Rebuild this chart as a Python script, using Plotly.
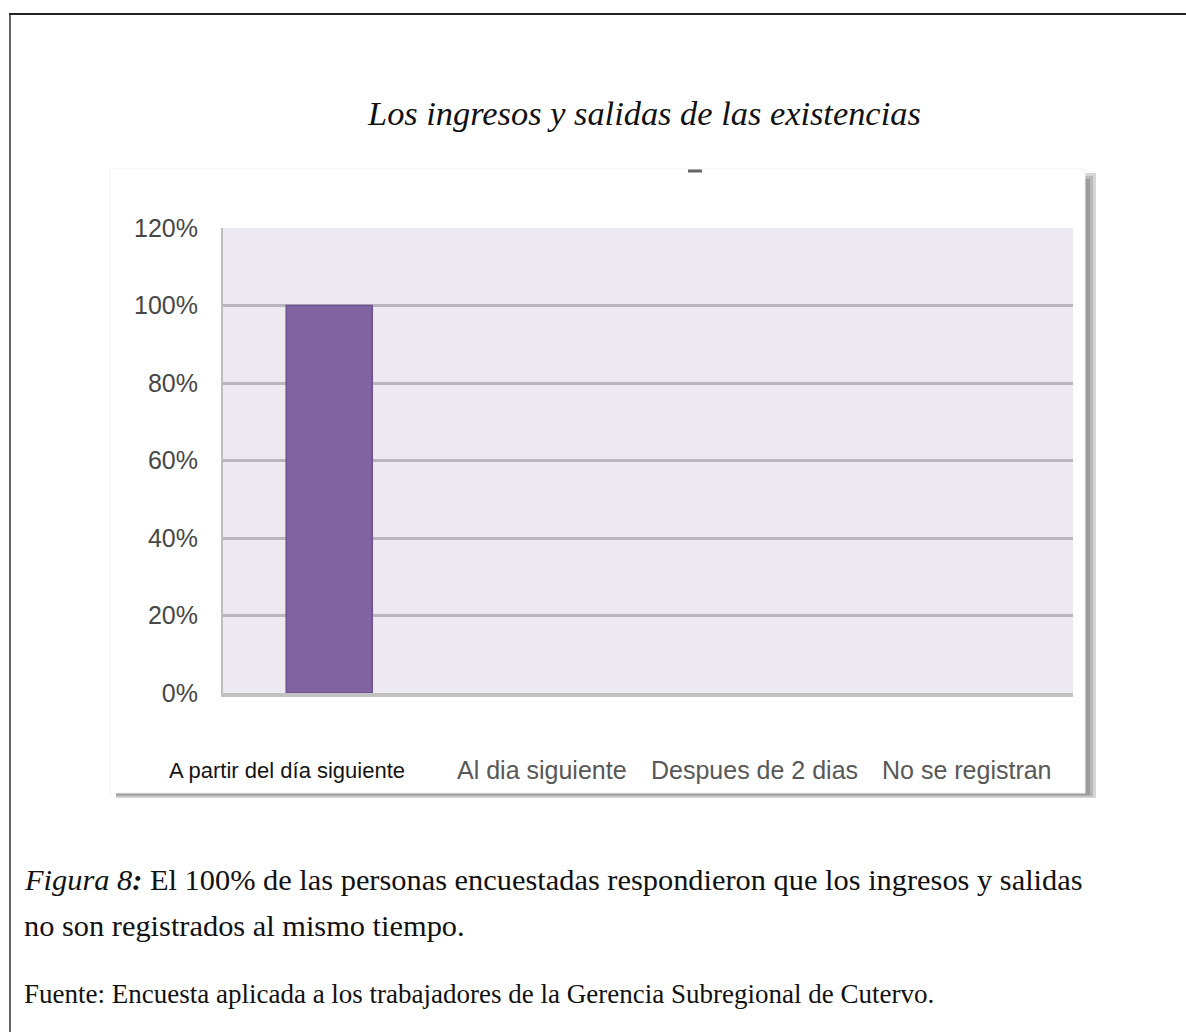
import plotly.graph_objects as go

categories = ["A partir del día siguiente", "Al dia siguiente", "Despues de 2 dias", "No se registran"]
values = [1.00, 0.0, 0.0, 0.0]
y_tickvals = [0, 0.2, 0.4, 0.6, 0.8, 1.0, 1.2]
y_ticktext = ["0%", "20%", "40%", "60%", "80%", "100%", "120%"]

title_text = "Los ingresos y salidas de las existencias"
caption_line1 = "<i>Figura 8</i><b><i>:</i></b> El 100% de las personas encuestadas respondieron que los ingresos y salidas"
caption_line2 = "no son registrados al mismo tiempo."
source_text = "Fuente: Encuesta aplicada a los trabajadores de la Gerencia Subregional de Cutervo."

W, H = 1186, 1032
def px(x):
    return x / W
def py(y):
    return 1 - y / H

label_xshift = [-42, 0, 0, 0]
label_colors = ["#141414", "#585858", "#585858", "#585858"]
label_sizes = [22, 25, 25, 25]

sans = "Liberation Sans, Arial, sans-serif"
serif = "Liberation Serif, Times New Roman, serif"

fig = go.Figure()
fig.add_trace(go.Bar(
    x=list(range(len(categories))), y=values, width=0.405,
    marker=dict(color="#8064A2",
                line=dict(color="#6C5290", width=[1.5 if v > 0 else 0 for v in values])),
    hoverinfo="skip",
))

shapes = []
# outer document frame (top and left)
shapes.append(dict(type="line", xref="paper", yref="paper", x0=px(9), x1=px(1186), y0=py(14), y1=py(14),
                   line=dict(color="#222222", width=2)))
shapes.append(dict(type="line", xref="paper", yref="paper", x0=px(10), x1=px(10), y0=py(14), y1=py(1032),
                   line=dict(color="#333333", width=1.5)))
# chart box shadow
for c, o in [("#d6d6d6", 11), ("#b8b8b8", 8), ("#9c9c9c", 5)]:
    shapes.append(dict(type="rect", xref="paper", yref="paper", layer="below",
                       x0=px(116), x1=px(1085 + o), y0=py(793 + o * 0.45), y1=py(173 + (11 - o)),
                       fillcolor=c, line=dict(width=0)))
# chart box
shapes.append(dict(type="rect", xref="paper", yref="paper", layer="below",
                   x0=px(110), x1=px(1085), y0=py(793), y1=py(169),
                   fillcolor="white", line=dict(color="#f2f2f2", width=1)))
# plot area background
shapes.append(dict(type="rect", xref="x domain", yref="y domain", layer="below",
                   x0=0, x1=1, y0=0, y1=1, fillcolor="#ECEAF0", line=dict(width=0)))
# stray mark above plot
shapes.append(dict(type="line", xref="paper", yref="paper", x0=px(688), x1=px(702), y0=py(171), y1=py(171),
                   line=dict(color="#666666", width=3)))

annotations = [
    dict(text="<i>" + title_text + "</i>", xref="paper", yref="paper", x=px(644), y=py(113),
         xanchor="center", yanchor="middle", showarrow=False,
         font=dict(family=serif, size=34.4, color="#111111")),
    dict(text=caption_line1, xref="paper", yref="paper", x=px(22), y=py(880), xanchor="left", yanchor="middle",
         showarrow=False, font=dict(family=serif, size=30.4, color="#111111")),
    dict(text=caption_line2, xref="paper", yref="paper", x=px(22), y=py(926), xanchor="left", yanchor="middle",
         showarrow=False, font=dict(family=serif, size=30.4, color="#111111")),
    dict(text=source_text, xref="paper", yref="paper", x=px(22), y=py(994), xanchor="left", yanchor="middle",
         showarrow=False, font=dict(family=serif, size=27, color="#111111")),
]
for i, cat in enumerate(categories):
    annotations.append(dict(text=cat, xref="x", yref="paper", x=i, y=py(770), xanchor="center",
                            yanchor="middle", xshift=label_xshift[i], showarrow=False,
                            font=dict(family=sans, size=label_sizes[i], color=label_colors[i])))

fig.update_layout(
    width=W, height=H,
    margin=dict(l=0, r=0, t=0, b=0, pad=0, autoexpand=False),
    paper_bgcolor="white",
    plot_bgcolor="#ECEAF0",
    showlegend=False,
    shapes=shapes,
    annotations=annotations,
    xaxis=dict(domain=[px(223), px(1073)], range=[-0.5, len(categories) - 0.5], autorange=False,
               showticklabels=False, showgrid=False, zeroline=False,
               showline=True, linecolor="#C2C2C2", linewidth=4, ticks="", fixedrange=True),
    yaxis=dict(domain=[py(693), py(228)], range=[0, 1.2], autorange=False,
               tickvals=y_tickvals, ticktext=y_ticktext,
               showgrid=True, gridcolor="#B9B6BE", gridwidth=3, zeroline=False,
               showline=True, linecolor="#BDBDBD", linewidth=2, ticks="", ticklabelstandoff=18,
               tickfont=dict(family=sans, size=25, color="#474747"), fixedrange=True),
)

fig.write_html("out.html", config={"displayModeBar": False},
               post_script="document.body.style.margin='0px';document.body.style.overflow='hidden';")
